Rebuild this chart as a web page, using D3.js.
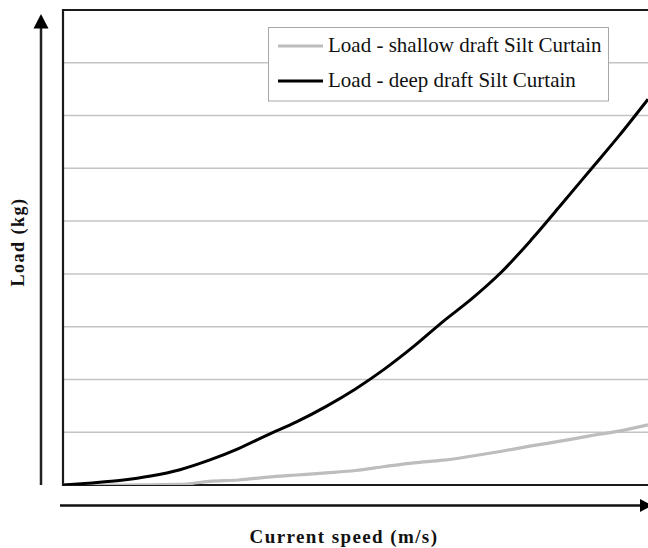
<!DOCTYPE html>
<html>
<head>
<meta charset="utf-8">
<script src="https://cdn.jsdelivr.net/npm/d3@7/dist/d3.min.js"></script>
<style>
  html, body { margin: 0; padding: 0; background: #fff; }
  svg { display: block; }
</style>
</head>
<body>
<svg id="chart" width="648" height="548"></svg>
<script>
// ---- data (axis has no numeric labels) ----
const speeds = [0, 0.05, 0.10, 0.15, 0.20, 0.25, 0.30, 0.35, 0.40, 0.45, 0.50,
                0.55, 0.60, 0.65, 0.70, 0.75, 0.80, 0.85, 0.90, 0.95, 1.00];
const loadDeep = [0, 4, 9, 17, 29, 47, 69, 95, 120, 149, 182,
                  220, 263, 310, 354, 404, 464, 529, 595, 661, 731];
const loadShallow = [0, 0, 0, 0.5, 1, 7, 9.5, 15, 19, 23, 27.5,
                     35, 42, 47, 55, 64, 74, 83, 93, 102, 114];
const gridValues = [100, 200, 300, 400, 500, 600, 700, 800];
const seriesNames = ["Load - shallow draft Silt Curtain", "Load - deep draft Silt Curtain"];
const xTitle = "Current speed (m/s)";
const yTitle = "Load (kg)";

(function () {
// ---- layout ----
const svg = d3.select("#chart");
const pL = 63, pR = 648, pT = 10, pB = 485;
const x = d3.scaleLinear().domain([0, 1]).range([pL, pR]);
const y = d3.scaleLinear().domain([0, 900]).range([pB, pT]);

const serif = "'Liberation Serif', 'Times New Roman', Times, serif";

svg.append("defs").append("clipPath").attr("id", "plotClip")
  .append("rect").attr("x", pL).attr("y", pT).attr("width", pR - pL).attr("height", pB - pT);

// gridlines
svg.append("g").selectAll("line").data(gridValues).join("line")
  .attr("x1", pL).attr("x2", pR)
  .attr("y1", d => y(d)).attr("y2", d => y(d))
  .attr("stroke", "#c4c4c4").attr("stroke-width", 1.5);

// plot border (top, left, bottom)
svg.append("path")
  .attr("d", `M${pR},${y(900)}H${pL}V${y(0)}H${pR}`)
  .attr("fill", "none").attr("stroke", "#1a1a1a").attr("stroke-width", 2.2);

// series lines
const line = d3.line().x((d, i) => x(speeds[i])).y(d => y(d)).curve(d3.curveMonotoneX);
const g = svg.append("g").attr("clip-path", "url(#plotClip)");
g.append("path").datum(loadShallow).attr("d", line)
  .attr("fill", "none").attr("stroke", "#bdbdbd").attr("stroke-width", 3.2);
g.append("path").datum(loadDeep).attr("d", line)
  .attr("fill", "none").attr("stroke", "#000").attr("stroke-width", 3);

// axis arrows
svg.append("line").attr("x1", 41).attr("x2", 41).attr("y1", 485).attr("y2", 26)
  .attr("stroke", "#222").attr("stroke-width", 2.5);
svg.append("path").attr("d", "M41,14L48.5,28.5L33.5,28.5Z").attr("fill", "#000");

svg.append("line").attr("x1", 60).attr("x2", 642).attr("y1", 505.5).attr("y2", 505.5)
  .attr("stroke", "#111").attr("stroke-width", 2.5);
svg.append("path").attr("d", "M652,505.5L640,499L640,512Z").attr("fill", "#000");

// legend
const lg = svg.append("g");
lg.append("rect").attr("x", 268.5).attr("y", 27.5).attr("width", 340).attr("height", 73.5)
  .attr("fill", "#fff").attr("stroke", "#a8a8a8").attr("stroke-width", 1);
const legColors = ["#bdbdbd", "#000"];
seriesNames.forEach((name, i) => {
  const cy = 46 + i * 35;
  lg.append("line").attr("x1", 278).attr("x2", 323).attr("y1", cy).attr("y2", cy)
    .attr("stroke", legColors[i]).attr("stroke-width", 3.2);
  lg.append("text").attr("x", 328).attr("y", 51.7 + i * 35.5)
    .attr("font-family", serif).attr("font-size", 21).attr("fill", "#111")
    .text(name);
});

// axis titles
svg.append("text").attr("x", 344).attr("y", 543)
  .attr("text-anchor", "middle").attr("font-family", serif).attr("font-weight", "bold")
  .attr("font-size", 19).attr("letter-spacing", 1.4).attr("fill", "#111")
  .text(xTitle);

svg.append("text").attr("transform", "translate(24,242) rotate(-90)")
  .attr("text-anchor", "middle").attr("font-family", serif).attr("font-weight", "bold")
  .attr("font-size", 18).attr("letter-spacing", 1.5).attr("fill", "#111")
  .text(yTitle);
})();
</script>
</body>
</html>
